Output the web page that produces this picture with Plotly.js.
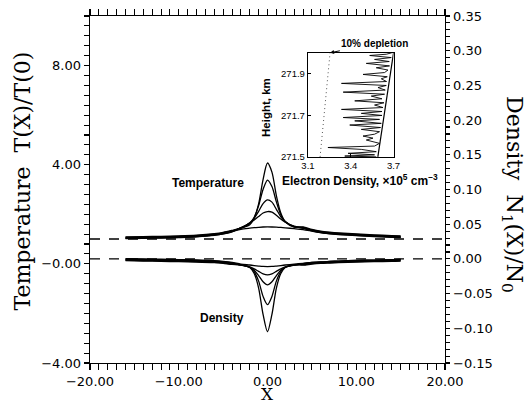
<!DOCTYPE html>
<html><head><meta charset="utf-8">
<script src="https://cdn.plot.ly/plotly-3.0.1.min.js"></script>
<style>html,body{margin:0;padding:0;background:#fff}#chart{width:530px;height:400px}</style>
</head><body><div id="chart"></div>
<script>
// ---- main panel data ----
const X = [-16,-14,-12,-10,-8,-6,-5,-4,-3,-2,-1.5,-1,-0.5,0,0.5,1,1.5,2,3,4,5,6,7,8,10,12,14,15];

const T1 = [1.09,1.10,1.11,1.13,1.16,1.22,1.27,1.35,1.44,1.58,1.85,2.42,3.40,4.07,3.70,2.75,2.05,1.70,1.50,1.49,1.39,1.32,1.28,1.25,1.21,1.17,1.14,1.13];
const T2 = [1.07,1.08,1.09,1.11,1.14,1.20,1.25,1.33,1.44,1.63,1.88,2.35,3.00,3.38,3.12,2.50,1.98,1.70,1.48,1.47,1.37,1.30,1.26,1.23,1.19,1.15,1.12,1.11];
const T3 = [1.05,1.06,1.07,1.09,1.12,1.18,1.23,1.31,1.45,1.66,1.84,2.12,2.43,2.58,2.49,2.20,1.90,1.71,1.50,1.45,1.35,1.28,1.24,1.21,1.17,1.13,1.10,1.09];
const T4 = [1.03,1.04,1.05,1.07,1.10,1.16,1.21,1.29,1.46,1.65,1.77,1.91,2.05,2.11,2.09,1.96,1.81,1.68,1.52,1.43,1.33,1.26,1.22,1.19,1.15,1.11,1.08,1.07];
const T5 = [1.02,1.03,1.04,1.06,1.09,1.15,1.21,1.30,1.39,1.44,1.46,1.475,1.487,1.49,1.488,1.48,1.47,1.455,1.42,1.38,1.32,1.26,1.21,1.18,1.14,1.10,1.07,1.06];

const D1 = [-0.0025,-0.003,-0.0035,-0.004,-0.0045,-0.0055,-0.0065,-0.008,-0.0085,-0.0125,-0.021,-0.042,-0.080,-0.105,-0.080,-0.042,-0.021,-0.0125,-0.0085,-0.009,-0.0075,-0.0065,-0.006,-0.0055,-0.0045,-0.004,-0.0035,-0.003];
const D2 = [-0.0018,-0.0023,-0.0028,-0.0033,-0.0038,-0.0048,-0.0058,-0.0073,-0.0086,-0.012,-0.0185,-0.032,-0.054,-0.066,-0.054,-0.032,-0.0185,-0.012,-0.0086,-0.0083,-0.0068,-0.0058,-0.0053,-0.0048,-0.0038,-0.0033,-0.0028,-0.0023];
const D3 = [-0.001,-0.0015,-0.002,-0.0025,-0.003,-0.004,-0.005,-0.0065,-0.0088,-0.012,-0.0163,-0.024,-0.033,-0.0375,-0.033,-0.024,-0.0163,-0.012,-0.0088,-0.0075,-0.006,-0.005,-0.0045,-0.004,-0.003,-0.0025,-0.002,-0.0015];
const D4 = [-0.0002,-0.0007,-0.0012,-0.0017,-0.0022,-0.0032,-0.0042,-0.0057,-0.0091,-0.0116,-0.0143,-0.018,-0.0215,-0.023,-0.0215,-0.018,-0.0143,-0.0116,-0.0091,-0.0067,-0.0052,-0.0042,-0.0037,-0.0032,-0.0022,-0.0017,-0.0012,-0.0007];
const D5 = [0.0005,0,-0.0005,-0.001,-0.0015,-0.0025,-0.0035,-0.005,-0.0075,-0.0088,-0.0096,-0.0103,-0.0109,-0.011,-0.0109,-0.0103,-0.0096,-0.0088,-0.0075,-0.0065,-0.0052,-0.0042,-0.0037,-0.0032,-0.0022,-0.0017,-0.0012,-0.0007];

const refX = [-20, 20];
const tempRef = [1, 1];
const densRef = [0, 0];

// ---- inset data ----
const insetH = [271.500,271.504,271.510,271.517,271.525,271.536,271.545,271.552,271.565,271.581,271.590,271.600,271.609,271.621,271.632,271.641,271.653,271.661,271.673,271.680,271.689,271.699,271.709,271.718,271.728,271.737,271.749,271.760,271.769,271.779,271.792,271.801,271.811,271.821,271.833,271.843,271.853,271.862,271.875,271.885,271.896,271.905,271.917,271.928,271.937,271.949,271.958,271.968,271.977,271.987,271.993,272.000];
const insetNe = [3.579,3.358,3.567,3.381,3.579,3.474,3.240,3.567,3.602,3.509,3.556,3.486,3.567,3.602,3.474,3.609,3.393,3.614,3.428,3.602,3.347,3.619,3.474,3.619,3.335,3.626,3.567,3.633,3.428,3.619,3.544,3.637,3.347,3.642,3.591,3.649,3.335,3.651,3.614,3.656,3.486,3.637,3.661,3.579,3.672,3.509,3.670,3.567,3.684,3.533,3.649,3.688];
const trendH = [271.5, 272.0];
const trendNe = [3.590, 3.700];
const depletNe = [3.185, 3.255];
const insetXTicks = [3.1, 3.4, 3.7];
const insetXText = ['3.1','3.4','3.7'];
const insetYTicks = [271.5, 271.7, 271.9];
const insetYText = ['271.5','271.7','271.9'];

// tick positions (axis decoration, not data): every minor step, label only on majors
function steps(a, b, n) { const out = []; for (let i = 0; i <= n; i++) out.push(+(a + (b - a) * i / n).toFixed(6)); return out; }
function fmt(v, zeroText) { if (v === 0) return zeroText; return (v < 0 ? '\u2212' : '') + Math.abs(v).toFixed(2); }
function isMult(v, m) { return Math.abs(v / m - Math.round(v / m)) < 1e-6; }
const xMinor = steps(-20, 20, 40);
const yTicks = steps(-4, 10, 35);
const yText = yTicks.map(v => isMult(v, 4) ? fmt(v, '\u22120.00') : '');
const y2Ticks = steps(-0.15, 0.35, 50);
const y2Text = y2Ticks.map(v => isMult(v, 0.05) ? fmt(v, '0.00') : '');

const curveLine = {color:'#000', width:1.3, shape:'spline', smoothing:0.8};
const traces = [];
traces.push({x:refX, y:tempRef, xaxis:'x', yaxis:'y', mode:'lines', line:{color:'#000', width:1.4, dash:'10px,9px'}});
traces.push({x:refX, y:densRef, xaxis:'x', yaxis:'y2', mode:'lines', line:{color:'#000', width:1.4, dash:'10px,9px'}});
[T1,T2,T3,T4,T5].forEach(t => traces.push({x:X, y:t, xaxis:'x', yaxis:'y', mode:'lines', line:curveLine}));
[D1,D2,D3,D4,D5].forEach(d => traces.push({x:X, y:d, xaxis:'x', yaxis:'y2', mode:'lines', line:curveLine}));
traces.push({x:insetNe, y:insetH, xaxis:'x3', yaxis:'y3', mode:'lines', line:{color:'#000', width:0.9}});
traces.push({x:trendNe, y:trendH, xaxis:'x3', yaxis:'y3', mode:'lines', line:{color:'#000', width:1.2}});
traces.push({x:depletNe, y:trendH, xaxis:'x3', yaxis:'y3', mode:'lines', line:{color:'#555', width:1, dash:'1px,3px'}});

const tickFont = {family:'DejaVu Sans', size:13, color:'#000'};
const insetFont = {family:'Liberation Sans, Arial', size:9.5, color:'#000'};
const ax = {showgrid:false, zeroline:false, showline:true, linecolor:'#000', linewidth:1.4, tickcolor:'#000', tickwidth:1.1, tickfont:tickFont};

const layout = {
  width:530, height:400,
  margin:{l:90, r:85, t:16, b:37},
  paper_bgcolor:'#fff', plot_bgcolor:'rgba(0,0,0,0)',
  showlegend:false,
  xaxis: Object.assign({}, ax, {domain:[0,1], range:[-20,20], anchor:'y', tickmode:'linear', tick0:0, dtick:10, tickformat:'.2f',
     ticks:'outside', ticklen:6, mirror:'allticks',
     minor:{tickmode:'array', tickvals:xMinor, ticks:'outside', ticklen:3, tickcolor:'#000', tickwidth:1}}),
  yaxis: Object.assign({}, ax, {domain:[0,1], range:[-4,10], anchor:'x', tickmode:'array', tickvals:yTicks, ticktext:yText,
     ticks:'outside', ticklen:5}),
  yaxis2: Object.assign({}, ax, {overlaying:'y', side:'right', anchor:'x', range:[-0.15,0.35], tickmode:'array', tickvals:y2Ticks, ticktext:y2Text,
     ticks:'outside', ticklen:4}),
  xaxis3: Object.assign({}, ax, {domain:[0.614,0.855], anchor:'y3', range:[3.1,3.7], tickmode:'array', tickvals:insetXTicks, ticktext:insetXText, ticks:'inside', ticklen:3, mirror:true, linewidth:1.2, tickfont:insetFont}),
  yaxis3: Object.assign({}, ax, {domain:[0.594,0.894], anchor:'x3', range:[271.5,272.0], tickmode:'array', tickvals:insetYTicks, ticktext:insetYText, ticks:'inside', ticklen:3, mirror:true, linewidth:1.2, tickfont:insetFont}),
  annotations:[
    {xref:'paper', yref:'paper', x:-0.1887, y:0.523, text:'Temperature\u00a0\u00a0T(X)/T(0)', textangle:-90, showarrow:false, xanchor:'center', yanchor:'middle', font:{family:'DejaVu Serif', size:22, color:'#000'}},
    {xref:'paper', yref:'paper', x:1.1915, y:0.484, text:'Density\u00a0\u00a0N<sub>1</sub>(X)/N<sub>0</sub>', textangle:90, showarrow:false, xanchor:'center', yanchor:'middle', font:{family:'DejaVu Serif', size:22, color:'#000'}},
    {xref:'paper', yref:'paper', x:0.4986, y:-0.09, text:'X', showarrow:false, xanchor:'center', yanchor:'middle', font:{family:'DejaVu Serif', size:17, color:'#000'}},
    {xref:'paper', yref:'paper', x:0.331, y:0.5187, text:'<b>Temperature</b>', showarrow:false, xanchor:'center', yanchor:'middle', font:{family:'Liberation Sans, Arial', size:12, color:'#000'}},
    {xref:'paper', yref:'paper', x:0.371, y:0.1305, text:'<b>Density</b>', showarrow:false, xanchor:'center', yanchor:'middle', font:{family:'Liberation Sans, Arial', size:12, color:'#000'}},
    {xref:'paper', yref:'paper', x:0.7606, y:0.5274, text:'<b>Electron Density, \u00d710<sup>5</sup> cm<sup>\u22123</sup></b>', showarrow:false, xanchor:'center', yanchor:'middle', font:{family:'Liberation Sans, Arial', size:12, color:'#000'}},
    {xref:'paper', yref:'paper', x:0.4958, y:0.735, text:'<b>Height, km</b>', textangle:-90, showarrow:false, xanchor:'center', yanchor:'middle', font:{family:'Liberation Sans, Arial', size:11.5, color:'#000'}},
    {xref:'x3', yref:'y3', x:3.255, y:272.0, ax:44, ay:-9, text:'<b>10% depletion</b>', showarrow:true, arrowhead:2, arrowsize:0.8, arrowwidth:1, arrowcolor:'#000', font:{family:'Liberation Sans, Arial', size:10, color:'#000'}}
  ]
};

Plotly.newPlot('chart', traces, layout, {staticPlot:true, displayModeBar:false});
</script>
</body></html>
